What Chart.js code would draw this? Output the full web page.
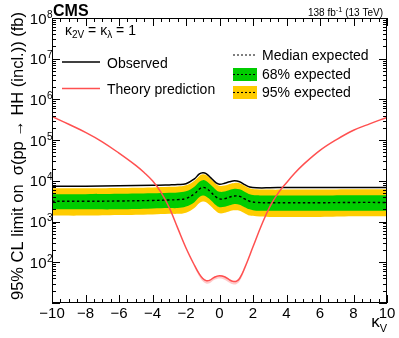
<!DOCTYPE html>
<html>
<head>
<meta charset="utf-8">
<script src="https://cdn.jsdelivr.net/npm/chart.js@4.4.1/dist/chart.umd.min.js"></script>
<style>
html, body { margin: 0; padding: 0; background: #fff; }
#wrap { width: 399px; height: 338px; }
</style>
</head>
<body>
<div id="wrap"><canvas id="limits" width="399" height="338"></canvas></div>
<script>
// ── kappa_V scan, limits in fb ──
var kvExp = [-10, -8, -6, -4, -3, -2.5, -2, -1.5, -1.2, -1, -0.8, -0.5, -0.2, 0, 0.3, 0.6, 0.9, 1.2, 1.5, 1.8, 2.2, 3, 4, 6, 8, 10];
var observed = [7400, 7400, 7600, 7750, 7950, 8100, 8500, 11200, 14800, 15800, 15100, 11700, 8900, 8300, 8700, 9500, 10000, 9500, 8100, 7100, 6750, 6750, 6900, 6900, 6900, 6900];
var median = [3150, 3150, 3200, 3300, 3400, 3450, 3700, 4800, 6300, 6900, 6600, 5200, 4000, 3600, 3650, 4000, 4250, 4150, 3600, 3150, 2950, 2900, 2900, 2900, 2950, 2950];
var up68 = [4700, 4700, 4800, 4950, 5100, 5200, 5550, 7200, 9450, 10400, 9900, 7800, 6000, 5400, 5500, 6000, 6400, 6200, 5400, 4700, 4400, 4350, 4350, 4350, 4400, 4400];
var down68 = [2000, 2000, 2000, 2100, 2150, 2150, 2350, 3000, 4000, 4350, 4150, 3300, 2500, 2250, 2300, 2500, 2700, 2600, 2250, 2000, 1850, 1850, 1850, 1850, 1850, 1850];
var up95 = [6600, 6600, 6700, 6900, 7150, 7250, 7800, 10100, 13200, 14500, 13900, 10900, 8400, 7550, 7650, 8400, 8900, 8700, 7550, 6600, 6200, 6100, 6100, 6100, 6200, 6200];
var down95 = [1400, 1400, 1450, 1500, 1550, 1550, 1650, 2150, 2850, 3100, 3000, 2350, 1800, 1600, 1650, 1800, 1900, 1850, 1600, 1400, 1350, 1300, 1300, 1300, 1350, 1350];

var kvTheory = [-10, -9, -8, -7, -6, -5, -4.5, -4, -3.5, -3, -2.5, -2, -1.5, -1.2, -1, -0.8, -0.6, -0.3, 0, 0.3, 0.6, 0.8, 1, 1.2, 1.5, 2, 2.5, 3, 3.5, 4, 4.5, 5, 6, 7, 8, 9, 10];
var theory = [380000, 245000, 155000, 91000, 48000, 24000, 16000, 10000, 5300, 2200, 700, 225, 85, 51, 40, 35.5, 36, 43, 47, 44, 37, 34, 34, 40, 72, 240, 800, 2300, 5000, 9000, 15500, 25000, 56000, 104000, 175000, 255000, 363000];
// theory uncertainty, only visible near the minimum
var kvBand = [-1.5, -1.2, -1, -0.8, -0.6, -0.3, 0, 0.3, 0.6, 0.8, 1, 1.2, 1.5];
var theoryHi = [88, 53, 42, 37, 37.5, 45, 49, 46, 38.5, 35.5, 35.5, 42, 75];
var theoryLo = [75, 44, 34, 30, 30.5, 37, 40, 37.5, 31.5, 29, 29, 34, 63];

var xTickValues = [-10, -8, -6, -4, -2, 0, 2, 4, 6, 8, 10];
var xTickLabels = ['\u221210', '\u22128', '\u22126', '\u22124', '\u22122', '0', '2', '4', '6', '8', '10'];
var yDecades = [2, 3, 4, 5, 6, 7, 8];

var colors = {
  yellow: '#ffcc00', green: '#00cc00', obs: '#000000', theory: '#ff5050',
  theoryBand: 'rgba(255,80,80,0.3)', text: '#000000',
};
var FONT = '"Liberation Sans", Arial, Helvetica, sans-serif';

function pts(xs, ys) {
  return xs.map(function (x, i) { return { x: x, y: ys[i] }; });
}

// draws text with a sub/superscript run, returns end x
function runText(ctx, parts, x, y) {
  parts.forEach(function (p) {
    ctx.font = p.font;
    ctx.fillText(p.t, x, y + (p.dy || 0));
    x += ctx.measureText(p.t).width;
  });
  return x;
}
function runWidth(ctx, parts) {
  var w = 0;
  parts.forEach(function (p) { ctx.font = p.font; w += ctx.measureText(p.t).width; });
  return w;
}

var rootStyle = {
  id: 'rootStyle',
  afterDraw: function (chart) {
    var ctx = chart.ctx, a = chart.chartArea;
    var sx = chart.scales.x, sy = chart.scales.y;
    ctx.save();
    ctx.strokeStyle = '#000';
    ctx.lineWidth = 1;

    // ticks pointing inward on all four sides
    ctx.beginPath();
    for (var v = -10; v <= 10.001; v += 0.5) {
      var px = Math.round(sx.getPixelForValue(v)) + 0.5;
      var len = (Math.abs(v % 2) < 1e-6) ? 8 : 4;
      ctx.moveTo(px, a.bottom); ctx.lineTo(px, a.bottom - len);
      ctx.moveTo(px, a.top); ctx.lineTo(px, a.top + len);
    }
    for (var d = 1; d <= 7; d++) {
      for (var m = 1; m <= 9; m++) {
        var val = m * Math.pow(10, d);
        var py = Math.round(sy.getPixelForValue(val)) + 0.5;
        var l2 = m === 1 ? 8 : 4;
        ctx.moveTo(a.left, py); ctx.lineTo(a.left + l2, py);
        ctx.moveTo(a.right, py); ctx.lineTo(a.right - l2, py);
      }
    }
    ctx.stroke();
    ctx.strokeRect(a.left + 0.5, a.top + 0.5, a.right - a.left - 1, a.bottom - a.top - 1);

    ctx.fillStyle = colors.text;
    // x tick labels
    ctx.font = '15px ' + FONT;
    ctx.textAlign = 'center';
    ctx.textBaseline = 'alphabetic';
    xTickValues.forEach(function (t, i) {
      ctx.fillText(xTickLabels[i], sx.getPixelForValue(t), 318);
    });
    // y tick labels 10^n
    yDecades.forEach(function (dd) {
      var py = sy.getPixelForValue(Math.pow(10, dd));
      ctx.textAlign = 'right';
      ctx.font = '15px ' + FONT;
      ctx.fillText('10', a.left - 5.5, py + 5.5);
      ctx.textAlign = 'left';
      ctx.font = '10px ' + FONT;
      ctx.fillText(String(dd), a.left - 5, py - 0.5);
    });

    // x title kappa_V
    ctx.textAlign = 'left';
    var xt = [{ t: '\u03ba', font: '17px ' + FONT }, { t: 'V', font: '11px ' + FONT, dy: 5 }];
    runText(ctx, xt, a.right - runWidth(ctx, xt), 327);

    // y title
    ctx.save();
    ctx.translate(18, 12);
    ctx.rotate(-Math.PI / 2);
    ctx.font = '16.5px ' + FONT;
    ctx.textAlign = 'right';
    ctx.textBaseline = 'middle';
    ctx.fillText('95% CL limit on  \u03c3(pp \u2192 HH (incl.)) (fb)', 0, 0);
    ctx.restore();

    // CMS label and lumi
    ctx.textAlign = 'left';
    ctx.font = 'bold 16px ' + FONT;
    ctx.fillText('CMS', a.left + 1, 16);
    var lumi = [
      { t: '138 fb', font: '10px ' + FONT },
      { t: '-1', font: '7.5px ' + FONT, dy: -4 },
      { t: ' (13 TeV)', font: '10px ' + FONT },
    ];
    runText(ctx, lumi, 383 - runWidth(ctx, lumi), 15.5);

    // coupling text
    var kap = [
      { t: '\u03ba', font: '14px ' + FONT },
      { t: '2V', font: '10px ' + FONT, dy: 3 },
      { t: ' = \u03ba', font: '14px ' + FONT },
      { t: '\u03bb', font: '10px ' + FONT, dy: 3 },
      { t: ' = 1', font: '14px ' + FONT },
    ];
    runText(ctx, kap, 65, 35);

    // legend, left column
    ctx.font = '14px ' + FONT;
    ctx.lineWidth = 1.5;
    ctx.strokeStyle = colors.obs;
    ctx.beginPath(); ctx.moveTo(62, 62); ctx.lineTo(100, 62); ctx.stroke();
    ctx.fillText('Observed', 107, 67.5);
    ctx.strokeStyle = colors.theory;
    ctx.beginPath(); ctx.moveTo(62, 88.5); ctx.lineTo(100, 88.5); ctx.stroke();
    ctx.fillText('Theory prediction', 107, 94);

    // legend, right column
    ctx.fillStyle = colors.green;
    ctx.fillRect(233, 68, 24, 13);
    ctx.fillStyle = colors.yellow;
    ctx.fillRect(233, 86, 24, 13);
    ctx.strokeStyle = '#000';
    ctx.lineWidth = 1.1;
    ctx.setLineDash([2, 2]);
    [55, 74.5, 92.5].forEach(function (yy) {
      ctx.beginPath(); ctx.moveTo(233, yy); ctx.lineTo(257, yy); ctx.stroke();
    });
    ctx.setLineDash([]);
    ctx.fillStyle = colors.text;
    ctx.fillText('Median expected', 262, 60);
    ctx.fillText('68% expected', 262, 79);
    ctx.fillText('95% expected', 262, 97);
    ctx.restore();
  },
};

var line = { pointRadius: 0, tension: 0.4 };

new Chart(document.getElementById('limits'), {
  type: 'line',
  data: {
    datasets: [
      Object.assign({ data: pts(kvExp, up95), fill: 1, backgroundColor: colors.yellow, borderWidth: 0, order: 6 }, line),
      Object.assign({ data: pts(kvExp, down95), fill: false, borderWidth: 0, order: 6 }, line),
      Object.assign({ data: pts(kvExp, up68), fill: 3, backgroundColor: colors.green, borderWidth: 0, order: 5 }, line),
      Object.assign({ data: pts(kvExp, down68), fill: false, borderWidth: 0, order: 5 }, line),
      Object.assign({ data: pts(kvExp, median), fill: false, borderColor: '#000', borderWidth: 1.4, borderDash: [2.5, 2.5], order: 3 }, line),
      Object.assign({ data: pts(kvExp, observed), fill: false, borderColor: colors.obs, borderWidth: 1.5, order: 2 }, line),
      Object.assign({ data: pts(kvTheory, theory), fill: false, borderColor: colors.theory, borderWidth: 1.5, order: 1 }, line),
      Object.assign({ data: pts(kvBand, theoryHi), fill: 8, backgroundColor: colors.theoryBand, borderWidth: 0, order: 4 }, line),
      Object.assign({ data: pts(kvBand, theoryLo), fill: false, borderWidth: 0, order: 4 }, line),
    ],
  },
  options: {
    responsive: false,
    animation: false,
    layout: { padding: { top: 18, right: 12, left: 0, bottom: 0 } },
    plugins: { legend: { display: false }, tooltip: { enabled: false } },
    scales: {
      x: {
        type: 'linear', min: -10, max: 10,
        ticks: { display: false, stepSize: 2 },
        grid: { display: false }, border: { display: false },
        afterFit: function (s) { s.height = 35; },
      },
      y: {
        type: 'logarithmic', min: 10, max: 1e8,
        ticks: { display: false },
        grid: { display: false }, border: { display: false },
        afterFit: function (s) { s.width = 52; },
      },
    },
  },
  plugins: [rootStyle],
});
</script>
</body>
</html>
